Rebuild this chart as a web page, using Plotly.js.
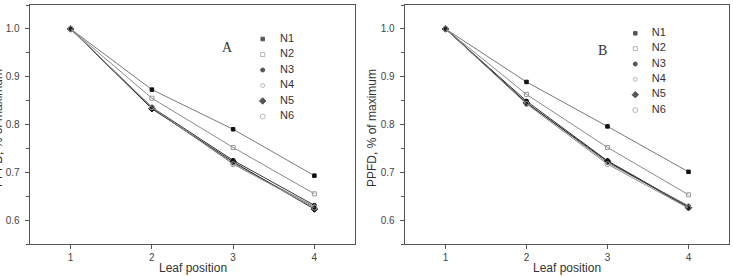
<!DOCTYPE html>
<html>
<head>
<meta charset="utf-8">
<script src="https://cdn.plot.ly/plotly-3.0.1.min.js"></script>
<style>
  html, body { margin: 0; padding: 0; background: #fff; }
  #chart { width: 733px; height: 276px; }
</style>
</head>
<body>
<div id="chart"></div>
<script>
// Relative PPFD down the canopy, two panels (A and B), six treatments each.
const leafPosition = [1, 2, 3, 4];
const seriesNames = ['N1', 'N2', 'N3', 'N4', 'N5', 'N6'];

// Panel A
const a_N1 = [1.0, 0.873, 0.790, 0.693];
const a_N2 = [1.0, 0.855, 0.752, 0.655];
const a_N3 = [1.0, 0.836, 0.725, 0.631];
const a_N4 = [1.0, 0.834, 0.719, 0.628];
const a_N5 = [1.0, 0.833, 0.722, 0.623];
const a_N6 = [1.0, 0.836, 0.717, 0.626];

// Panel B
const b_N1 = [1.0, 0.889, 0.796, 0.701];
const b_N2 = [1.0, 0.863, 0.752, 0.653];
const b_N3 = [1.0, 0.849, 0.724, 0.628];
const b_N4 = [1.0, 0.846, 0.720, 0.630];
const b_N5 = [1.0, 0.845, 0.723, 0.626];
const b_N6 = [1.0, 0.843, 0.717, 0.625];

const xTickVals = [1, 2, 3, 4];
const yTickVals = [0.6, 0.7, 0.8, 0.9, 1.0];
const yTickText = ['0.6', '0.7', '0.8', '0.9', '1.0'];
const panelLabels = ['A', 'B'];
const xTitle = 'Leaf position';
const yTitle = 'PPFD, % of maximum';

const panelA = [a_N1, a_N2, a_N3, a_N4, a_N5, a_N6];
const panelB = [b_N1, b_N2, b_N3, b_N4, b_N5, b_N6];

// marker / line style per treatment
const styles = [
  { symbol: 'square',       size: 3.5, mcolor: '#111', lcolor: '#7a7a7a' },
  { symbol: 'square-open',  size: 4,   mcolor: '#9a9a9a', lcolor: '#8a8a8a' },
  { symbol: 'circle',       size: 4,   mcolor: '#111', lcolor: '#333' },
  { symbol: 'circle-open',  size: 4,   mcolor: '#9a9a9a', lcolor: '#777' },
  { symbol: 'diamond',      size: 5,   mcolor: '#111', lcolor: '#2a2a2a' },
  { symbol: 'circle-open',  size: 5,   mcolor: '#9a9a9a', lcolor: '#8c8c8c' }
];

// page geometry (pixels)
const W = 733, H = 276;
const M = { l: 0, r: 0, t: 5, b: 32 };
const plotH = H - M.t - M.b;
const px = v => v / (W - M.l - M.r);
const py = v => (H - M.b - v) / plotH;

const traces = [];
function addPanel(data, xa, ya) {
  data.forEach((vals, i) => {
    const s = styles[i];
    traces.push({
      type: 'scatter', mode: 'lines+markers',
      x: leafPosition, y: vals, xaxis: xa, yaxis: ya,
      name: seriesNames[i], showlegend: false,
      line: { color: s.lcolor, width: 1 },
      marker: { symbol: s.symbol, size: s.size, color: s.mcolor,
                line: { color: s.mcolor, width: 1 } },
      hoverinfo: 'skip'
    });
  });
}
addPanel(panelA, 'x', 'y');
addPanel(panelB, 'x2', 'y2');

// key entries: series index mapped onto a hidden axis pair
function addKey(xa, ya) {
  const idx = seriesNames.map((_, i) => i);
  traces.push({
    type: 'scatter', mode: 'markers', xaxis: xa, yaxis: ya,
    x: idx.map(() => 0), y: idx, cliponaxis: false, showlegend: false,
    marker: {
      symbol: styles.map(s => s.symbol),
      size: styles.map(s => s.size),
      color: styles.map(s => s.mcolor),
      line: { color: styles.map(s => s.mcolor), width: 1 }
    },
    hoverinfo: 'skip'
  });
  traces.push({
    type: 'scatter', mode: 'text', xaxis: xa, yaxis: ya,
    x: idx.map(() => 1), y: idx, text: seriesNames,
    textposition: 'middle right', cliponaxis: false, showlegend: false,
    textfont: { family: 'Liberation Sans, Arial, sans-serif', size: 11, color: '#333' },
    hoverinfo: 'skip'
  });
}
addKey('x3', 'y3');
addKey('x4', 'y4');

const font = { family: 'Liberation Sans, Arial, sans-serif', size: 10, color: '#444' };

function xAxis(domain, anchor) {
  return {
    domain: domain, anchor: anchor, range: [0.5, 4.5],
    tickvals: xTickVals, ticks: 'outside', ticklen: 4, tickwidth: 1, tickcolor: '#555',
    showline: true, mirror: true, linecolor: '#555', linewidth: 1.3,
    showgrid: false, zeroline: false, tickfont: font, ticklabelstandoff: 0,
    fixedrange: true
  };
}
function yAxis(anchor) {
  return {
    domain: [0, 1], anchor: anchor, range: [0.55, 1.05],
    tickvals: yTickVals, ticktext: yTickText,
    ticks: 'outside', ticklen: 4, tickwidth: 1, tickcolor: '#555',
    minor: { ticks: 'outside', ticklen: 2.5, tickwidth: 1, tickcolor: '#555', dtick: 0.05, tick0: 0.55 },
    showline: true, mirror: true, linecolor: '#555', linewidth: 1.3,
    showgrid: false, zeroline: false, tickfont: font, ticklabelstandoff: 3,
    fixedrange: true
  };
}
function keyAxes(x0, x1, rowTop, rowGap) {
  const n = seriesNames.length;
  const top = rowTop - rowGap / 2, bottom = top + rowGap * n;
  return [
    { domain: [px(x0), px(x1)], range: [0, 1], visible: false, fixedrange: true },
    { domain: [py(bottom), py(top)], range: [n - 0.5, -0.5], visible: false, fixedrange: true }
  ];
}
const keyA = keyAxes(262.7, 280, 39, 15.5);
const keyB = keyAxes(635.3, 651.7, 33.3, 15.35);

const titleFont = { family: 'Liberation Sans, Arial, sans-serif', size: 12, color: '#333' };
const serifFont = { family: 'Liberation Serif, Times New Roman, serif', size: 14, color: '#333' };

const layout = {
  width: W, height: H,
  margin: M,
  paper_bgcolor: '#fff', plot_bgcolor: '#fff',
  showlegend: false,
  xaxis: xAxis([px(30), px(355)], 'y'),
  yaxis: yAxis('x'),
  xaxis2: xAxis([px(405), px(729)], 'y2'),
  yaxis2: yAxis('x2'),
  xaxis3: Object.assign({ anchor: 'y3' }, keyA[0]),
  yaxis3: Object.assign({ anchor: 'x3' }, keyA[1]),
  xaxis4: Object.assign({ anchor: 'y4' }, keyB[0]),
  yaxis4: Object.assign({ anchor: 'x4' }, keyB[1]),
  annotations: [
    { text: panelLabels[0], xref: 'paper', yref: 'paper', x: px(228), y: py(48),
      showarrow: false, font: serifFont, xanchor: 'center', yanchor: 'middle' },
    { text: panelLabels[1], xref: 'paper', yref: 'paper', x: px(602), y: py(50.5),
      showarrow: false, font: serifFont, xanchor: 'center', yanchor: 'middle' },
    { text: xTitle, xref: 'paper', yref: 'paper', x: px(192.5), y: py(268),
      showarrow: false, font: titleFont, xanchor: 'center', yanchor: 'middle' },
    { text: xTitle, xref: 'paper', yref: 'paper', x: px(567), y: py(268),
      showarrow: false, font: titleFont, xanchor: 'center', yanchor: 'middle' },
    { text: yTitle, xref: 'paper', yref: 'paper', x: px(-2), y: py(128), textangle: -90,
      showarrow: false, font: titleFont, xanchor: 'center', yanchor: 'middle' },
    { text: yTitle, xref: 'paper', yref: 'paper', x: px(372), y: py(128), textangle: -90,
      showarrow: false, font: titleFont, xanchor: 'center', yanchor: 'middle' }
  ]
};

Plotly.newPlot('chart', traces, layout, { displayModeBar: false, staticPlot: true });
</script>
</body>
</html>
